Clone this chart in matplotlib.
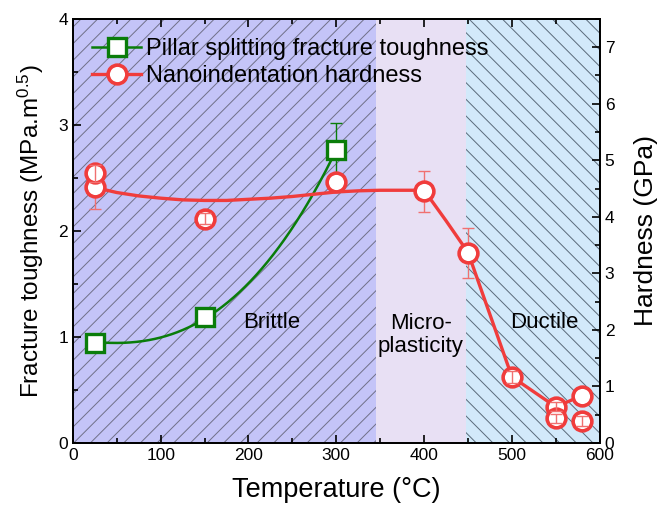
import numpy as np
import matplotlib
matplotlib.use("Agg")
import matplotlib.pyplot as plt
from matplotlib.lines import Line2D
from matplotlib.ticker import MultipleLocator

plt.rcParams['font.family'] = ['Liberation Sans', 'DejaVu Sans']
plt.rcParams['mathtext.default'] = 'regular'
plt.rcParams['hatch.linewidth'] = 0.7

# Fracture toughness (MPa.m^0.5) - pillar splitting
kc_temp = [25, 150, 300]
kc_val = [0.94, 1.19, 2.76]
kc_err = [0.05, 0.0, 0.26]

# Toughness trend line
kl_temp = [25, 50, 75, 100, 125, 150, 175, 200, 225, 250, 275, 300]
kl_val = [0.95, 0.95, 0.962, 0.985, 1.05, 1.19, 1.33, 1.50, 1.73, 2.03, 2.38, 2.76]

# Nanoindentation hardness (GPa)
h_temp = [25, 25, 150, 300, 400, 450, 500, 550, 550, 580, 580]
h_val = [4.52, 4.77, 3.97, 4.61, 4.45, 3.36, 1.17, 0.64, 0.44, 0.84, 0.39]
h_err = [0.38, 0.15, 0.10, 0.0, 0.36, 0.44, 0.10, 0.08, 0.08, 0.0, 0.08]

# Hardness trend line
hl_temp = [25, 50, 75, 100, 125, 150, 175, 200, 225, 250, 275, 300, 325, 350, 400, 425, 450, 500, 550, 580]
hl_val = [4.52, 4.43, 4.37, 4.33, 4.30, 4.29, 4.29, 4.31, 4.33, 4.36, 4.40, 4.44, 4.46, 4.47, 4.47, 3.93, 3.37, 1.17, 0.64, 0.84]

# Regimes
regions = [(0, 345, 'Brittle'), (345, 448, 'Micro-\nplasticity'), (448, 600, 'Ductile')]
region_colors = ['#c4c4f8', '#e8e0f4', '#d2e9fa']
region_hatch = ['//', None, '\\\\']
hatch_colors = ['#707088', '#e8e0f4', '#5a6a7a']
label_pos = [(227, 1.14), (396, 1.02), (537, 1.14)]

RED = '#f03c3c'
RED_ERR = '#f07070'
GREEN = '#0a7d0a'

fig = plt.figure(figsize=(6.62, 5.11), dpi=100)
ax = fig.add_axes([0.110, 0.133, 0.796, 0.830])
ax2 = ax.twinx()

for (x0, x1, name), c, h, hc, (tx, ty) in zip(regions, region_colors, region_hatch, hatch_colors, label_pos):
    ax.axvspan(x0, x1, facecolor=c, edgecolor=hc, hatch=h, lw=0, zorder=0)
    ax.text(tx, ty, name, fontsize=16, ha='center', va='center', zorder=3, linespacing=1.1)

# Green (smooth rendering of the read trend line)
kcoef = np.polyfit(kl_temp, kl_val, 4)
kx = np.linspace(kl_temp[0], kl_temp[-1], 300)
ax.plot(kx, np.polyval(kcoef, kx), color=GREEN, lw=1.8, zorder=4)
ax.errorbar(kc_temp, kc_val, yerr=kc_err, fmt='none', ecolor=GREEN, elinewidth=1, capsize=4, capthick=1, zorder=4)
ax.plot(kc_temp, kc_val, ls='none', marker='s', ms=13, mfc='white', mec=GREEN, mew=2.4, zorder=5)

# Red hardness
ax2.plot(hl_temp, hl_val, color=RED, lw=2.4, zorder=4, solid_joinstyle='round')
big = [i for i, e in enumerate(h_err) if e > 0.2]
small = [i for i, e in enumerate(h_err) if 0 < e <= 0.2]
ax2.errorbar([h_temp[i] for i in big], [h_val[i] for i in big], yerr=[h_err[i] for i in big],
             fmt='none', ecolor=RED_ERR, elinewidth=1, capsize=4, capthick=1, zorder=4)
ax2.plot(h_temp, h_val, ls='none', marker='o', ms=13.5, mfc='white', mec=RED, mew=2.6, zorder=5)
ax2.errorbar([h_temp[i] for i in small], [h_val[i] for i in small], yerr=[h_err[i] for i in small],
             fmt='none', ecolor=RED_ERR, elinewidth=1, capsize=4, capthick=1, zorder=6)

ax.set_xlim(0, 600)
ax.set_ylim(0, 4)
ax2.set_ylim(0, 7.5)
ax.xaxis.set_major_locator(MultipleLocator(100))
ax.xaxis.set_minor_locator(MultipleLocator(50))
ax.yaxis.set_major_locator(MultipleLocator(1))
ax.yaxis.set_minor_locator(MultipleLocator(0.5))
ax2.yaxis.set_major_locator(MultipleLocator(1))
ax2.yaxis.set_minor_locator(MultipleLocator(0.5))

ax.tick_params(which='both', direction='in', top=True, labelsize=12.5, width=1.2)
ax.tick_params(which='major', length=6)
ax.tick_params(which='minor', length=3.5)
ax.tick_params(axis='y', right=False)
ax2.tick_params(which='both', direction='in', labelsize=12.5, width=1.2)
ax2.tick_params(which='major', length=6)
ax2.tick_params(which='minor', length=3.5)
for a in (ax, ax2):
    for s in a.spines.values():
        s.set_linewidth(1.3)

ax.set_xlabel('Temperature (\u00b0C)', fontsize=19.5, labelpad=10)
ax.set_ylabel('Fracture toughness (MPa.m$^{0.5}$)', fontsize=17.5, labelpad=9)
ax2.set_ylabel('Hardness (GPa)', fontsize=19, labelpad=14)

handles = [
    Line2D([], [], color=GREEN, lw=1.8, marker='s', ms=13, mfc='white', mec=GREEN, mew=2.4),
    Line2D([], [], color=RED, lw=2.4, marker='o', ms=13.5, mfc='white', mec=RED, mew=2.6),
]
leg = ax2.legend(handles, ['Pillar splitting fracture toughness', 'Nanoindentation hardness'],
                 loc='upper left', fontsize=17, frameon=False, handlelength=2.1,
                 handletextpad=0.2, borderaxespad=0.4, labelspacing=0.22)
leg.set_zorder(10)

fig.savefig('out.png', dpi=100)
